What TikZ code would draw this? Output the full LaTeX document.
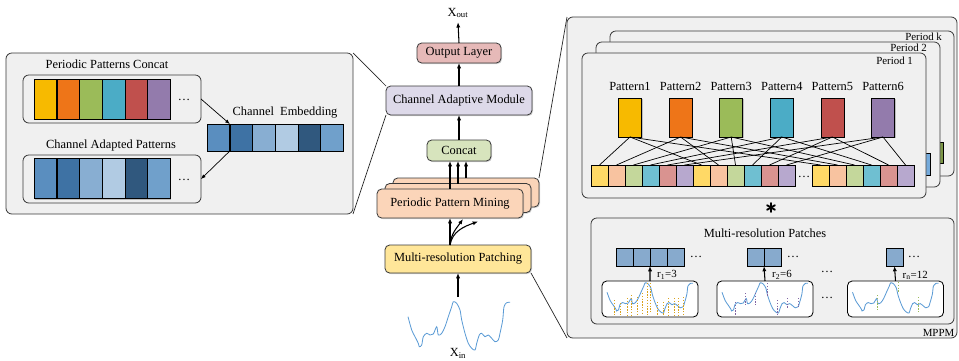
\documentclass[tikz,border=0pt]{standalone}
\usepackage{fontspec}
\setmainfont{Liberation Serif}
\usetikzlibrary{arrows.meta,shadows,positioning}

% colours
\definecolor{panelgray}{HTML}{F0F0F0}
\definecolor{edgegray}{HTML}{3A3A3A}
\definecolor{cyellow}{HTML}{F7BA00}
\definecolor{corange}{HTML}{EE7518}
\definecolor{cgreen}{HTML}{9BBB59}
\definecolor{cteal}{HTML}{4BACC6}
\definecolor{cred}{HTML}{C0504D}
\definecolor{cpurple}{HTML}{937BAC}
\definecolor{lyellow}{HTML}{FFD966}
\definecolor{lorange}{HTML}{F8C3A0}
\definecolor{lgreen}{HTML}{C4D79B}
\definecolor{lteal}{HTML}{6FBFD1}
\definecolor{lred}{HTML}{D99390}
\definecolor{lpurple}{HTML}{B7A8CE}
\definecolor{bone}{HTML}{5A8EBF}
\definecolor{btwo}{HTML}{3E72A4}
\definecolor{bthree}{HTML}{88AED2}
\definecolor{bfour}{HTML}{B1CBE3}
\definecolor{bfive}{HTML}{30587E}
\definecolor{bsix}{HTML}{70A0CB}
\definecolor{patchblue}{HTML}{87AACD}
\definecolor{outpink}{HTML}{E6B9B8}
\definecolor{camlav}{HTML}{DDD9E9}
\definecolor{concatgreen}{HTML}{D7E4BD}
\definecolor{ppmpeach}{HTML}{FBD5B9}
\definecolor{mrpyellow}{HTML}{FFE699}
\definecolor{seriesblue}{HTML}{5B9BD5}
\definecolor{dotorange}{HTML}{D9A21B}
\definecolor{dotpurple}{HTML}{8064A2}
\definecolor{dotgreen}{HTML}{9BBB59}

% the input series, relative to its top left point
\newcommand{\tswave}{plot[smooth, tension=0.5] coordinates {(0,14.7) (3.7,28) (7,34.7) (10.3,41.3) (11.3,44.7) (13.7,43) (15.3,34.7) (18.7,31.3) (22,33) (25.3,32) (28.7,24.7) (30.3,33) (33.7,31.3) (37,24.7) (40.3,14.7) (43.7,4.7) (45.3,-0.3) (48.7,1.3) (52,8) (53.7,18) (57,31.3) (60.3,41.3) (63.7,46.3) (67,48) (68.7,41.3) (71.3,33) (73.7,31.3) (77,34.7) (80.3,33) (83.7,36.3) (87,39.7) (90.3,38) (92,31.3) (94.7,18) (96,4.7) (98.7,0.7) (102,0.3)}}

\tikzset{
  panel/.style={draw=edgegray, fill=panelgray, rounded corners=5pt, line width=0.7pt, inner sep=0pt, outer sep=0pt},
  block/.style={draw=edgegray, rounded corners=4pt, line width=0.7pt, inner sep=0pt, outer sep=0pt,
    drop shadow={shadow xshift=0.9pt, shadow yshift=-0.9pt, opacity=0.35}},
  sbox/.style={draw=black, fill=white, rounded corners=4pt, line width=0.7pt, inner sep=0pt, outer sep=0pt,
    minimum width=2.88cm, minimum height=1.08cm},
  cell/.style={draw=black, line width=0.6pt, inner sep=0pt, outer sep=0pt,
    drop shadow={shadow xshift=0.9pt, shadow yshift=-0.9pt, opacity=0.45}},
  arr/.style={-{Latex[length=4.5pt,width=3.6pt]}, line width=0.9pt},
  thinarr/.style={-{Latex[length=4pt,width=3.2pt]}, line width=0.6pt},
  link/.style={line width=0.6pt},
  zoomline/.style={line width=0.6pt, draw=black!85},
  series/.style={draw=seriesblue, line width=0.7pt},
  dotline/.style={line width=0.8pt, dash pattern=on 1.2pt off 1.2pt},
  small/.style={font=\fontsize{9.3}{11}\selectfont}
}

\begin{document}
\begin{tikzpicture}[x=0.03cm, y=-0.03cm, every node/.style={font=\fontsize{10.6}{12}\selectfont}]
    \useasboundingbox (0,0) rectangle (959,360);

    % Channel adaptive panel on the left
    \node[panel, minimum width=10.41cm, minimum height=4.83cm] (chpanel) at (179.5,133.5) {};
    \node at (107,64) {Periodic Patterns Concat};
    \node[panel, minimum width=5.34cm, minimum height=1.44cm] (concatbox) at (112,99) {};
    \foreach \c [count=\i] in {cyellow,corange,cgreen,cteal,cred,cpurple}
        \node[cell, fill=\c, minimum width=0.68cm, minimum height=1.2cm] (pc\i) at ({45.5+22.7*(\i-1)},99) {};
    \node at (184,100) {\dots};

    \node at (285,113) {Channel~~Embedding};
    \foreach \c [count=\i] in {bone,btwo,bthree,bfour,bfive,bsix}
        \node[cell, fill=\c, minimum width=0.68cm, minimum height=0.81cm] (emb\i) at ({218.5+22.7*(\i-1)},137.5) {};

    \node at (111,146) {Channel Adapted Patterns};
    \node[panel, minimum width=5.34cm, minimum height=1.44cm] (adaptbox) at (112,179) {};
    \foreach \c [count=\i] in {bone,btwo,bthree,bfour,bfive,bsix}
        \node[cell, fill=\c, minimum width=0.68cm, minimum height=1.2cm] (ac\i) at ({45.5+22.7*(\i-1)},178.5) {};
    \node at (184,180) {\dots};

    \draw[thinarr] (concatbox.east) -- (emb1.north east);
    \draw[thinarr] (emb1.south east) -- (adaptbox.east);

    % Main pipeline in the middle
    \node (xout) at (458,13) {X\textsubscript{out}};
    \node[block, fill=outpink, minimum width=2.52cm, minimum height=0.6cm] (outl) at (459,53) {Output Layer};
    \node[block, fill=camlav, minimum width=4.38cm, minimum height=0.87cm] (cam) at (459,100.5) {Channel Adaptive Module};
    \node[block, fill=concatgreen, minimum width=1.92cm, minimum height=0.63cm] (concat) at (459,150.5) {Concat};
    \node[block, fill=ppmpeach, minimum width=4.38cm, minimum height=0.87cm] (ppm3) at (466,192.5) {};
    \node[block, fill=ppmpeach, minimum width=4.38cm, minimum height=0.87cm] (ppm2) at (458,198) {};
    \node[block, fill=ppmpeach, minimum width=4.38cm, minimum height=0.87cm] (ppm1) at (450,203.5) {Periodic Pattern Mining};
    \node[block, fill=mrpyellow, minimum width=4.38cm, minimum height=0.84cm] (mrp) at (458,259) {Multi-resolution Patching};
    \node (xin) at (458,353) {X\textsubscript{in}};

    \draw[arr] (outl.north) -- (xout.south);
    \draw[arr] (cam.north) -- (outl.south);
    \draw[arr] (concat.north) -- (cam.south);
    \foreach \n in {1,2,3}
        \draw[arr] (ppm\n.north) -- (ppm\n.north |- concat.south);

    \coordinate (mstart) at (ppm1.south |- mrp.north);
    \coordinate (mtwo) at (463,219);
    \coordinate (mthree) at (478,221.5);
    \draw[arr] (mstart) -- (ppm1.south);
    \draw[arr] (mstart) to[out=85,in=-125] (mtwo);
    \draw[arr] (mstart) to[out=80,in=-160] (mthree);

    \coordinate (xtop) at (458,297);
    \draw[arr] (xtop) -- (mrp.south);
    \begin{scope}[shift={(408,302)}]
        \draw[series] \tswave;
    \end{scope}

    % MPPM panel on the right
    \node[panel, minimum width=11.7cm, minimum height=9.63cm] (mppm) at (762,177.5) {};
    \node[small] at (938.5,333) {MPPM};

    \node[panel, minimum width=10.32cm, minimum height=4.35cm] (perk) at (782,103.5) {};
    \node[small, anchor=east] at (946,37) {Period k};
    \draw[cell, fill=cgreen!80!black] (929,142) rectangle (943,163);
    \node[panel, minimum width=10.32cm, minimum height=4.35cm] (pertwo) at (768,114.5) {};
    \node[small, anchor=east] at (931,48) {Period 2};
    \draw[cell, fill=seriesblue!85] (915,153) rectangle (930,175);
    \node[panel, minimum width=10.32cm, minimum height=4.35cm] (perone) at (754,125.5) {};
    \node[small, anchor=east] at (917,61) {Period 1};

    \foreach \c [count=\i] in {cyellow,corange,cgreen,cteal,cred,cpurple} {
        \node[cell, fill=\c, minimum width=0.69cm, minimum height=1.17cm] (pat\i) at ({630+50.6*(\i-1)},117.5) {};
        \node at ({630+50.6*(\i-1)},86) {Pattern\i};
    }
    \foreach \c [count=\i] in {lyellow,lorange,lgreen,lteal,lred,lpurple,lyellow,lorange,lgreen,lteal,lred,lpurple}
        \node[cell, fill=\c, minimum width=0.51cm, minimum height=0.63cm] (row\i) at ({599.5+17*(\i-1)},175.5) {};
    \node at (804,177) {\dots};
    \foreach \c [count=\i from 13] in {lyellow,lorange,lgreen,lteal,lred,lpurple}
        \node[cell, fill=\c, minimum width=0.51cm, minimum height=0.63cm] (row\i) at ({820.5+17*(\i-13)},175.5) {};

    % each pattern goes to the cells of its colour
    \foreach \i in {1,...,6} {
        \pgfmathtruncatemacro{\rowb}{\i+6}
        \pgfmathtruncatemacro{\rowc}{\i+12}
        \draw[link] (pat\i.south) -- (row\i.north);
        \draw[link] (pat\i.south) -- (row\rowb.north);
        \draw[link] (pat\i.south) -- (row\rowc.north);
    }

    % bold asterisk between the two parts
    \coordinate (star) at (771,207.5);
    \foreach \a in {90,30,150}
        \draw[line width=1.6pt, line cap=round] (star) ++(\a:4.5) -- ++(\a+180:9);

    % Multi-resolution patches
    \node[panel, minimum width=10.89cm, minimum height=3.18cm] (mrpatch) at (772.5,271) {};
    \node at (765,233) {Multi-resolution Patches};

    \foreach \i in {1,...,4}
        \node[cell, fill=patchblue, minimum width=0.51cm, minimum height=0.54cm] (pa\i) at ({624.5+17*(\i-1)},257) {};
    \foreach \i in {1,2}
        \node[cell, fill=patchblue, minimum width=0.51cm, minimum height=0.54cm] (pb\i) at ({755.5+17*(\i-1)},257) {};
    \node[cell, fill=patchblue, minimum width=0.51cm, minimum height=0.54cm] (pc1) at (894.5,257) {};
    \node at (696,257) {\dots};
    \node at (793,257) {\dots};
    \node at (914,257) {\dots};
    \node at (827,272) {\dots};
    \node at (827,298) {\dots};

    \node[sbox] (sb1) at (650,299) {};
    \node[sbox] (sb2) at (765,299) {};
    \node[sbox] (sb3) at (895.5,299) {};

    \begin{scope}[shift={(607,283)}, xscale=0.843, yscale=0.625]
        \draw[series] \tswave;
    \end{scope}
    \begin{scope}[shift={(722,283)}, xscale=0.843, yscale=0.625]
        \draw[series] \tswave;
    \end{scope}
    \begin{scope}[shift={(852.5,283)}, xscale=0.843, yscale=0.625]
        \draw[series] \tswave;
    \end{scope}

    \foreach \x/\a/\b in {614/300/315, 620/303/315, 627/298/315, 631/295/315, 637/297/315, 642/293/315, 647/283/315, 650/283/312, 657/302/315, 663/302/315, 668/298/315, 674/298/315, 678/298/315, 683/297/315}
        \draw[dotline, dotorange] (\x,\a) -- (\x,\b);
    \foreach \x/\a/\b in {735/302/315, 745/293/305, 755/293/305, 767/283/297, 777/300/315, 787/298/308, 798/298/307}
        \draw[dotline, dotpurple] (\x,\a) -- (\x,\b);
    \foreach \x/\a/\b in {877/295/310, 898/282/292, 918/297/313}
        \draw[dotline, dotgreen] (\x,\a) -- (\x,\b);

    \draw[arr] (sb1.north) -- (pa2.south east);
    \draw[arr] (sb2.north) -- (pb1.south east);
    \draw[arr] (sb3.north) -- (pc1.south);
    \node[small, anchor=west] at (653,275) {r\textsubscript{1}=3};
    \node[small, anchor=west] at (768,275) {r\textsubscript{2}=6};
    \node[small, anchor=west] at (898.5,275) {r\textsubscript{n}=12};

    % zoom lines
    \draw[zoomline] (chpanel.north east) -- (cam.north west);
    \draw[zoomline] (chpanel.south east) -- (cam.south west);
    \draw[zoomline] (ppm3.north east) -- (mppm.north west);
    \draw[zoomline] (mrp.south east) -- (mppm.south west);

\end{tikzpicture}
\end{document}
